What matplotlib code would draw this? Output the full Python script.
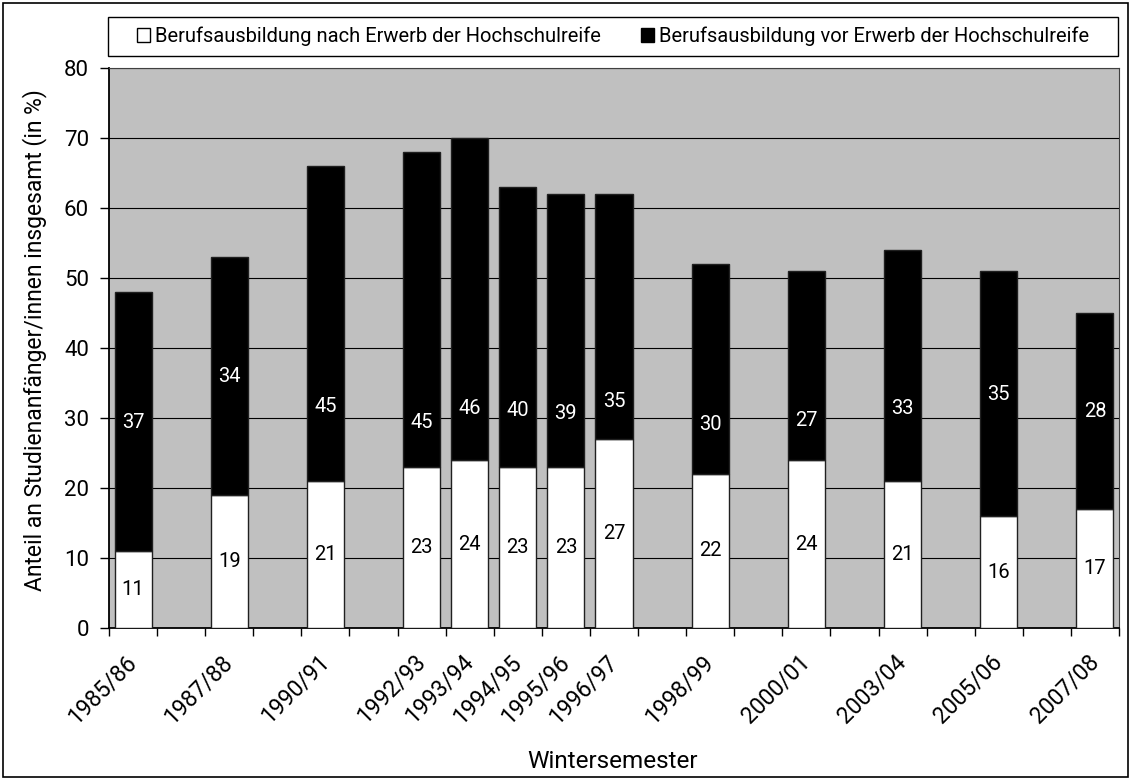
import matplotlib
matplotlib.use("Agg")
import matplotlib.pyplot as plt
from matplotlib.patches import Patch, Rectangle
from matplotlib.transforms import ScaledTranslation
import numpy as np

plt.rcParams['font.family'] = ['Roboto', 'DejaVu Sans']

# ---- data ----
semesters = ["1985/86", "1987/88", "1990/91", "1992/93", "1993/94", "1994/95",
             "1995/96", "1996/97", "1998/99", "2000/01", "2003/04", "2005/06", "2007/08"]
# slot index on the category axis (21 slots, gaps for missing years)
slots = [0, 2, 4, 6, 7, 8, 9, 10, 12, 14, 16, 18, 20]
n_slots = 21
nach = [11, 19, 21, 23, 24, 23, 23, 27, 22, 24, 21, 16, 17]
vor = [37, 34, 45, 45, 46, 40, 39, 35, 30, 27, 33, 35, 28]
# vertical position of the labels in the black segments (as placed in the original)
vor_label_y = [29.3, 35.9, 31.6, 29.4, 31.4, 31.0, 30.7, 32.3, 29.1, 29.7, 31.4, 33.3, 30.9]

label_nach = "Berufsausbildung nach Erwerb der Hochschulreife"
label_vor = "Berufsausbildung vor Erwerb der Hochschulreife"

W, H = 1131, 780
fig = plt.figure(figsize=(W / 100, H / 100), dpi=100)
fig.patch.set_facecolor("white")
ax = fig.add_axes([109 / W, 1 - 628 / H, (1119 - 109) / W, (628 - 68) / H])
ax.set_facecolor("#C0C0C0")

x = np.array(slots, dtype=float)
bw = 0.77
ax.bar(x, nach, width=bw, color="white", edgecolor="#202020", linewidth=1.0, zorder=3)
ax.bar(x, vor, width=bw, bottom=nach, color="black", edgecolor="#202020", linewidth=1.0, zorder=3)

for xi, a, b, ly in zip(x, nach, vor, vor_label_y):
    ax.text(xi, a / 2, str(a), ha="center", va="center", fontsize=14.5, color="black", zorder=4)
    ax.text(xi, ly, str(b), ha="center", va="center", fontsize=14.5, color="white", zorder=4)

ax.set_xlim(-0.5, n_slots - 0.5)
ax.set_ylim(0, 80)
ax.set_yticks(np.arange(0, 81, 10))
ax.yaxis.grid(True, color="black", linewidth=0.8, zorder=1)
ax.set_axisbelow(True)

# category boundary ticks
ax.set_xticks(np.arange(-0.5, n_slots, 1.0), minor=True)
ax.set_xticks(x)
ax.set_xticklabels(semesters, rotation=45, ha="right", va="center",
                   rotation_mode="anchor", fontsize=16.5)
off = ScaledTranslation(-4 / 100, 0, fig.dpi_scale_trans)
for lab in ax.get_xticklabels():
    lab.set_transform(lab.get_transform() + off)
ax.tick_params(axis="x", which="major", length=0, pad=22)
ax.tick_params(axis="x", which="minor", length=6, width=1, direction="out", color="black")
ax.tick_params(axis="y", length=6.5, width=1, direction="out", labelsize=16, pad=8)

for s in ["top", "right"]:
    ax.spines[s].set_color("#404040")
    ax.spines[s].set_linewidth(0.8)
for s in ["left", "bottom"]:
    ax.spines[s].set_color("black")
    ax.spines[s].set_linewidth(1.3)

fig.text(35 / W, 1 - 340 / H, "Anteil an Studienanfänger/innen insgesamt (in %)",
         rotation=90, ha="center", va="center", fontsize=16.5)
fig.text(613 / W, 1 - 761 / H, "Wintersemester", ha="center", va="center", fontsize=17.5)

# legend box
lx0, ly0, lx1, ly1 = 108, 17, 1118, 56
fig.patches.append(Rectangle((lx0 / W, 1 - ly1 / H), (lx1 - lx0) / W, (ly1 - ly0) / H,
                             transform=fig.transFigure, fill=True, facecolor="white",
                             edgecolor="black", linewidth=1.0))
handles = [Patch(facecolor="white", edgecolor="black", linewidth=1.0),
           Patch(facecolor="black", edgecolor="black", linewidth=1.0)]
leg = fig.legend(handles, [label_nach, label_vor], ncol=2,
                 bbox_to_anchor=(lx0 / W, 1 - ly1 / H, (lx1 - lx0) / W, (ly1 - ly0) / H),
                 loc="center", frameon=False, fontsize=14.5,
                 handlelength=0.65, handleheight=0.65, handletextpad=0.25,
                 columnspacing=2.0, borderaxespad=0, borderpad=0)

fig.patches.append(Rectangle((3 / W, 3 / H), 1 - 6 / W, 1 - 6 / H, transform=fig.transFigure,
                             fill=False, edgecolor="black", linewidth=1.2))

fig.savefig("out.png", dpi=100)
